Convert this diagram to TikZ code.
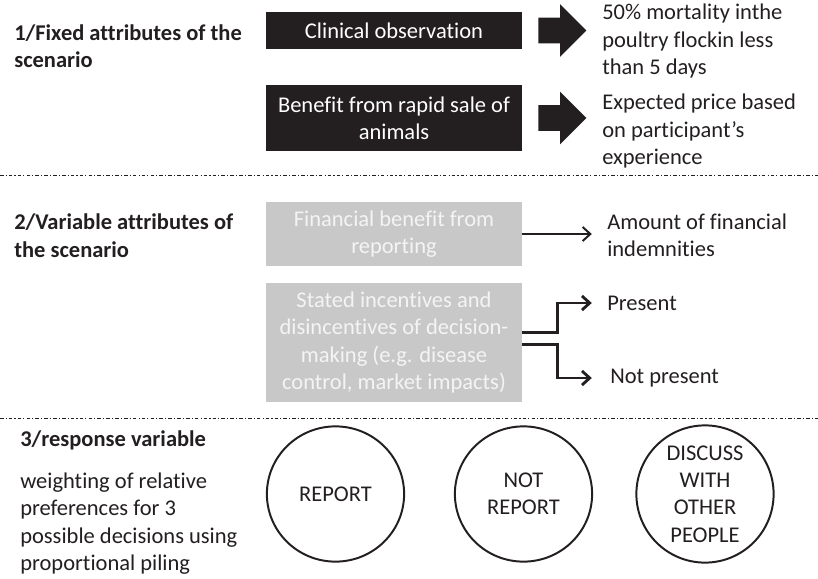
\documentclass[tikz,border=0pt]{standalone}
\usepackage{fontspec}
\setmainfont{Carlito}[Ligatures=NoCommon]
\usetikzlibrary{shapes.arrows,shapes.geometric,arrows.meta}

\definecolor{ink}{HTML}{231F20}
\definecolor{panel}{HTML}{C8C8C9}
\definecolor{paletext}{HTML}{F4F4F4}

\tikzset{every node/.style={font=\fontsize{16}{19.5}\selectfont, text=ink}}

\begin{document}
\begin{tikzpicture}[x=0.025cm, y=-0.025cm,
		fixbox/.style={fill=ink, text=white, align=center, minimum width=6.4cm, inner sep=0pt},
		varbox/.style={fill=panel, text=paletext, align=center, minimum width=6.4cm, inner sep=0pt},
		heading/.style={anchor=west, align=left, inner sep=0pt, font=\fontsize{16}{19.5}\selectfont\bfseries},
		plain/.style={anchor=west, align=left, inner sep=0pt},
		blockarrow/.style={single arrow, fill=ink, inner xsep=0pt, inner ysep=0.3125cm, minimum height=1.2cm, minimum width=1.3cm, single arrow head extend=0.3375cm},
		linkarrow/.style={draw=ink, -{Straight Barb[length=5.5pt,width=10pt]}, shorten >=0.38cm},
		choice/.style={ellipse, draw=ink, line width=1.4pt, align=center, minimum width=3.43cm, minimum height=3.38cm, inner sep=0pt},
		divider/.style={draw=ink, line width=0.7pt, dash pattern=on 2.5pt off 1.5pt on 0.8pt off 1.5pt}]
			\useasboundingbox (0,0) rectangle (818,579);
			
			% Section headings
			\node[heading] (headA) at (14,46) {1/Fixed attributes of the\\scenario};
			\node[heading] (headB) at (14,235.5) {2/Variable attributes of\\the scenario};
			\node[heading] (headC) at (20,440) {3/response variable};
			\node[plain] (note) at (20,523.5) {weighting of relative\\preferences for 3\\possible decisions using\\proportional piling};
			
			% Fixed attributes (black boxes)
			\node[fixbox, minimum height=0.925cm] (fixA) at (394,30.5) {Clinical observation};
			\node[fixbox, minimum height=1.65cm] (fixB) at (394,118) {Benefit from rapid sale of\\animals};
			\node[blockarrow] (arrA) at (556,30.5) {};
			\node[blockarrow] (arrB) at (556,118) {};
			\node[plain] (outA) at (602,41) {50\% mortality inthe\\poultry flockin less\\than 5 days};
			\node[plain] (outB) at (602,131) {Expected price based\\on participant’s\\experience};
			
			% Variable attributes (grey boxes)
			\node[varbox, minimum height=1.6cm] (varA) at (394,234) {Financial benefit from\\reporting};
			\node[varbox, minimum height=2.975cm] (varB) at (394,342.5) {Stated incentives and\\disincentives of decision-\\making (e.g. disease\\control, market impacts)};
			\node[plain] (outC) at (607,235) {Amount of financial\\indemnities};
			\node[plain] (pres) at (607,303) {Present};
			\node[plain] (nopres) at (610,378) {Not present};
			
			% Arrows from the grey boxes
			\draw[linkarrow, line width=1.4pt] (varA.east) -- (outC.west |- varA.east);
			\draw[linkarrow, line width=2pt] ([yshift=0.24cm]varB.east) -- ++(35,0) |- (pres.west);
			\draw[linkarrow, line width=2pt] ([yshift=-0.04cm]varB.east) -- ++(35,0) |- ([xshift=-0.075cm]nopres.west);
			
			% Dividers
			\draw[divider] (0,175) -- (818,175);
			\draw[divider] (0,418) -- (818,418);
			
			% Response options
			\node[choice] (choiceA) at (335.5,494) {REPORT};
			\node[choice] (choiceB) at (523.5,494) {NOT\\REPORT};
			\node[choice] (choiceC) at (705,494) {DISCUSS\\WITH\\OTHER\\PEOPLE};
		\end{tikzpicture}
\end{document}
